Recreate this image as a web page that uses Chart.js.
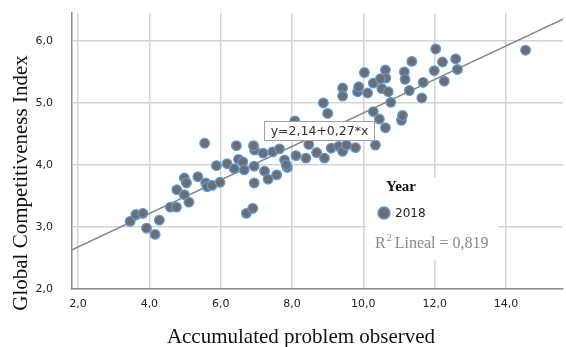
<!DOCTYPE html>
<html>
<head>
<meta charset="utf-8">
<script src="https://cdn.jsdelivr.net/npm/chart.js@4.4.0/dist/chart.umd.min.js"></script>
<style>
  body { margin: 0; background: #fff; }
  canvas { display: block; }
</style>
</head>
<body>
<canvas id="chart" width="566" height="347"></canvas>
<script>
// values
const xValues = [3.46, 3.62, 3.82, 3.92, 4.16, 4.28, 4.59, 4.76, 4.77, 4.98,
  5.04, 4.98, 5.11, 5.36, 5.58, 5.62, 5.76, 5.55, 5.88, 5.98,
  6.18, 6.38, 6.44, 6.50, 6.62, 6.66, 6.94, 6.95, 6.92, 6.94,
  6.72, 6.90, 7.19, 7.46, 7.65, 7.79, 7.87, 8.11, 8.39, 8.47,
  8.69, 8.91, 9.10, 9.31, 9.42, 9.53, 9.78, 10.34, 7.23, 7.33,
  7.57, 7.84, 8.08, 8.88, 9.00, 9.42, 9.42, 9.84, 9.87, 10.03,
  10.12, 10.28, 10.28, 10.45, 10.62, 10.52, 10.62, 10.63, 10.48, 10.70,
  10.77, 11.07, 11.10, 11.15, 11.17, 11.29, 11.36, 11.64, 11.68, 11.99,
  12.03, 12.22, 12.27, 12.59, 12.64, 14.55];
const yValues = [3.09, 3.20, 3.22, 2.98, 2.88, 3.11, 3.32, 3.32, 3.60, 3.79,
  3.71, 3.52, 3.40, 3.81, 3.71, 3.65, 3.67, 4.35, 3.99, 3.72,
  4.02, 3.94, 4.31, 4.09, 4.05, 3.92, 3.98, 4.24, 4.31, 3.71,
  3.22, 3.30, 4.19, 4.21, 4.26, 4.08, 3.96, 4.15, 4.11, 4.33,
  4.20, 4.11, 4.27, 4.30, 4.22, 4.32, 4.28, 4.32, 3.90, 3.77,
  3.84, 4.00, 4.71, 5.00, 4.83, 5.24, 5.11, 5.18, 5.26, 5.49,
  5.16, 5.32, 4.86, 4.74, 4.60, 5.23, 5.53, 5.40, 5.39, 5.18,
  5.01, 4.72, 4.80, 5.50, 5.38, 5.20, 5.67, 5.08, 5.33, 5.52,
  5.87, 5.66, 5.35, 5.71, 5.54, 5.85];

// fit line ends, read where it meets the plot edges
const fitX = [1.83, 15.6];
const fitY = [2.63, 6.35];

const xTicks = [2, 4, 6, 8, 10, 12, 14];
const yTicks = [2, 3, 4, 5, 6];

const seriesName = '2018';
const equationText = 'y=2,14+0,27*x';
const r2Text = '0,819';

const fmt = v => v.toFixed(1).replace('.', ',');

const points = xValues.map((x, i) => ({ x: x, y: yValues[i] }));
const fitPoints = fitX.map((x, i) => ({ x: x, y: fitY[i] }));

const DOT_FILL = '#6e6e6e';
const DOT_EDGE = '#5b9be0';

const annotations = {
  id: 'annotations',
  beforeDatasetsDraw(chart) {
    // white panel behind the legend, covering the grid
    const ctx = chart.ctx;
    ctx.save();
    ctx.fillStyle = '#fff';
    ctx.fillRect(366, 177, 133, 83);
    ctx.restore();
  },
  afterDatasetsDraw(chart) {
    const ctx = chart.ctx;
    ctx.save();

    // equation label
    ctx.fillStyle = '#fff';
    ctx.fillRect(264, 121, 111, 20);
    ctx.strokeStyle = '#a0a0a0';
    ctx.lineWidth = 1;
    ctx.strokeRect(264.5, 121.5, 110, 19);
    ctx.fillStyle = '#333';
    ctx.font = '12.5px "DejaVu Sans"';
    ctx.textAlign = 'center';
    ctx.textBaseline = 'middle';
    ctx.fillText(equationText, 319.5, 131.5);

    // legend
    ctx.textAlign = 'left';
    ctx.fillStyle = '#111';
    ctx.font = 'bold 15px "Liberation Serif"';
    ctx.fillText('Year', 386, 187);

    ctx.beginPath();
    ctx.arc(384, 213, 6, 0, Math.PI * 2);
    ctx.fillStyle = DOT_FILL;
    ctx.fill();
    ctx.lineWidth = 1.5;
    ctx.strokeStyle = DOT_EDGE;
    ctx.stroke();

    ctx.fillStyle = '#222';
    ctx.font = '12px "DejaVu Sans"';
    ctx.fillText(seriesName, 395, 214);

    ctx.fillStyle = '#888';
    ctx.font = '16px "Liberation Serif"';
    ctx.textBaseline = 'alphabetic';
    ctx.fillText('R', 375, 248);
    const rw = ctx.measureText('R').width;
    ctx.font = '10px "Liberation Serif"';
    ctx.fillText('2', 375 + rw + 1, 241);
    ctx.font = '16px "Liberation Serif"';
    ctx.fillText('Lineal = ' + r2Text, 375 + rw + 9, 248);

    // axis titles
    ctx.fillStyle = '#111';
    ctx.font = '21px "Liberation Serif"';
    ctx.textAlign = 'center';
    ctx.textBaseline = 'middle';
    ctx.fillText('Accumulated problem observed', 301, 337);

    ctx.translate(21, 183);
    ctx.rotate(-Math.PI / 2);
    ctx.fillText('Global Competitiveness Index', 0, 0);

    ctx.restore();
  }
};

new Chart(document.getElementById('chart'), {
  type: 'scatter',
  data: {
    datasets: [
      {
        label: seriesName,
        data: points,
        backgroundColor: DOT_FILL,
        borderColor: DOT_EDGE,
        borderWidth: 1.3,
        pointRadius: 4.8,
        order: 1
      },
      {
        type: 'line',
        label: 'fit',
        data: fitPoints,
        borderColor: '#858585',
        borderWidth: 1.5,
        pointRadius: 0,
        fill: false,
        order: 2
      }
    ]
  },
  options: {
    responsive: false,
    animation: false,
    layout: { autoPadding: false, padding: { top: 13, right: 3, left: 0, bottom: 0 } },
    plugins: {
      legend: { display: false },
      tooltip: { enabled: false }
    },
    scales: {
      x: {
        type: 'linear',
        min: 1.83,
        max: 15.6,
        afterBuildTicks: s => { s.ticks = xTicks.map(v => ({ value: v })); },
        afterFit: s => { s.height = 58; s.paddingLeft = 0; s.paddingRight = 0; },
        grid: { color: '#d3d3d3', lineWidth: 1.5, drawTicks: false },
        border: { display: true, color: '#8c8c8c', width: 1.5 },
        ticks: {
          padding: 9,
          color: '#222',
          font: { family: 'DejaVu Sans', size: 11 },
          callback: v => fmt(v)
        }
      },
      y: {
        type: 'linear',
        min: 2,
        max: 6.45,
        afterBuildTicks: s => { s.ticks = yTicks.map(v => ({ value: v })); },
        afterFit: s => { s.width = 72; s.paddingTop = 0; s.paddingBottom = 0; },
        grid: { color: '#d3d3d3', lineWidth: 1.5, drawTicks: false },
        border: { display: true, color: '#8c8c8c', width: 1.5 },
        ticks: {
          padding: 19,
          color: '#222',
          font: { family: 'DejaVu Sans', size: 11 },
          callback: v => fmt(v)
        }
      }
    }
  },
  plugins: [annotations]
});
</script>
</body>
</html>
